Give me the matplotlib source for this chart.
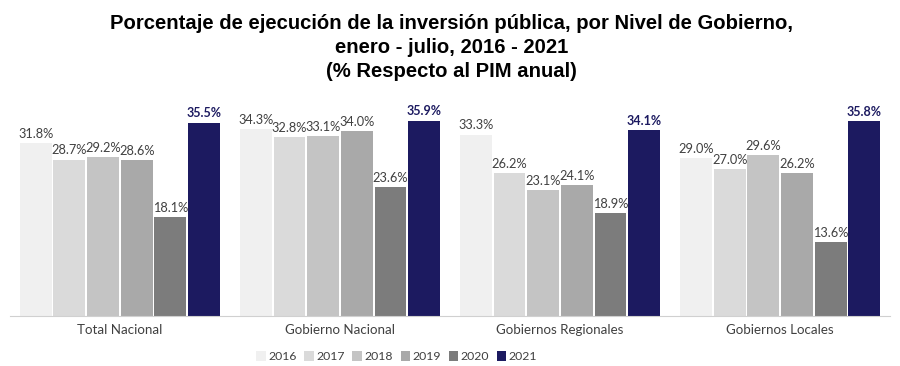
import numpy as np
import matplotlib
matplotlib.use("Agg")
import matplotlib.pyplot as plt

# datos
categorias = ["Total Nacional", "Gobierno Nacional", "Gobiernos Regionales", "Gobiernos Locales"]
anios = ["2016", "2017", "2018", "2019", "2020", "2021"]
v2016 = [31.8, 34.3, 33.3, 29.0]
v2017 = [28.7, 32.8, 26.2, 27.0]
v2018 = [29.2, 33.1, 23.1, 29.6]
v2019 = [28.6, 34.0, 24.1, 26.2]
v2020 = [18.1, 23.6, 18.9, 13.6]
v2021 = [35.5, 35.9, 34.1, 35.8]

series = [v2016, v2017, v2018, v2019, v2020, v2021]
colores = ["#f0f0f0", "#dadada", "#c4c4c4", "#a9a9a9", "#7c7c7c", "#1c1a60"]

fig = plt.figure(figsize=(9, 3.66), dpi=100)
ax = fig.add_axes([0.011, 0.137, 0.978, 0.59])

x = np.arange(len(categorias))
paso = 0.153
ancho = 0.145
for i, (vals, col) in enumerate(zip(series, colores)):
    pos = x + (i - 2.5) * paso
    ax.bar(pos, vals, width=ancho, color=col, label=anios[i], zorder=2)
    for p, v in zip(pos, vals):
        if i == 5:
            ax.text(p, v + 0.6, f"{v:.1f}%", ha="center", va="bottom", fontsize=9,
                    color="#1c1a60", fontweight="bold", family="Lato")
        else:
            ax.text(p, v + 0.6, f"{v:.1f}%", ha="center", va="bottom", fontsize=9.2,
                    color="#404040", family="Lato")

ax.set_xlim(-0.5, 3.5)
ax.set_ylim(0, 39.7)
ax.set_yticks([])
ax.set_xticks(x)
ax.set_xticklabels(categorias, fontsize=9.6, color="#404040", family="Lato")
ax.tick_params(axis="x", length=0, pad=6)
for s in ["top", "right", "left"]:
    ax.spines[s].set_visible(False)
ax.spines["bottom"].set_color("#d0d0d0")

fig.suptitle("Porcentaje de ejecución de la inversión pública, por Nivel de Gobierno,\n"
             "enero - julio, 2016 - 2021\n(% Respecto al PIM anual)",
             x=0.502, y=0.962, fontsize=14.6, fontweight="bold", family="Liberation Sans",
             linespacing=1.35)

fig.legend(loc="lower center", bbox_to_anchor=(0.441, -0.02), ncol=6, frameon=False,
           prop={"family": "Lato", "size": 8.8}, handlelength=0.8, handleheight=0.8,
           handletextpad=0.2, columnspacing=0.6, labelcolor="#404040")

fig.savefig("out.png", dpi=100)
